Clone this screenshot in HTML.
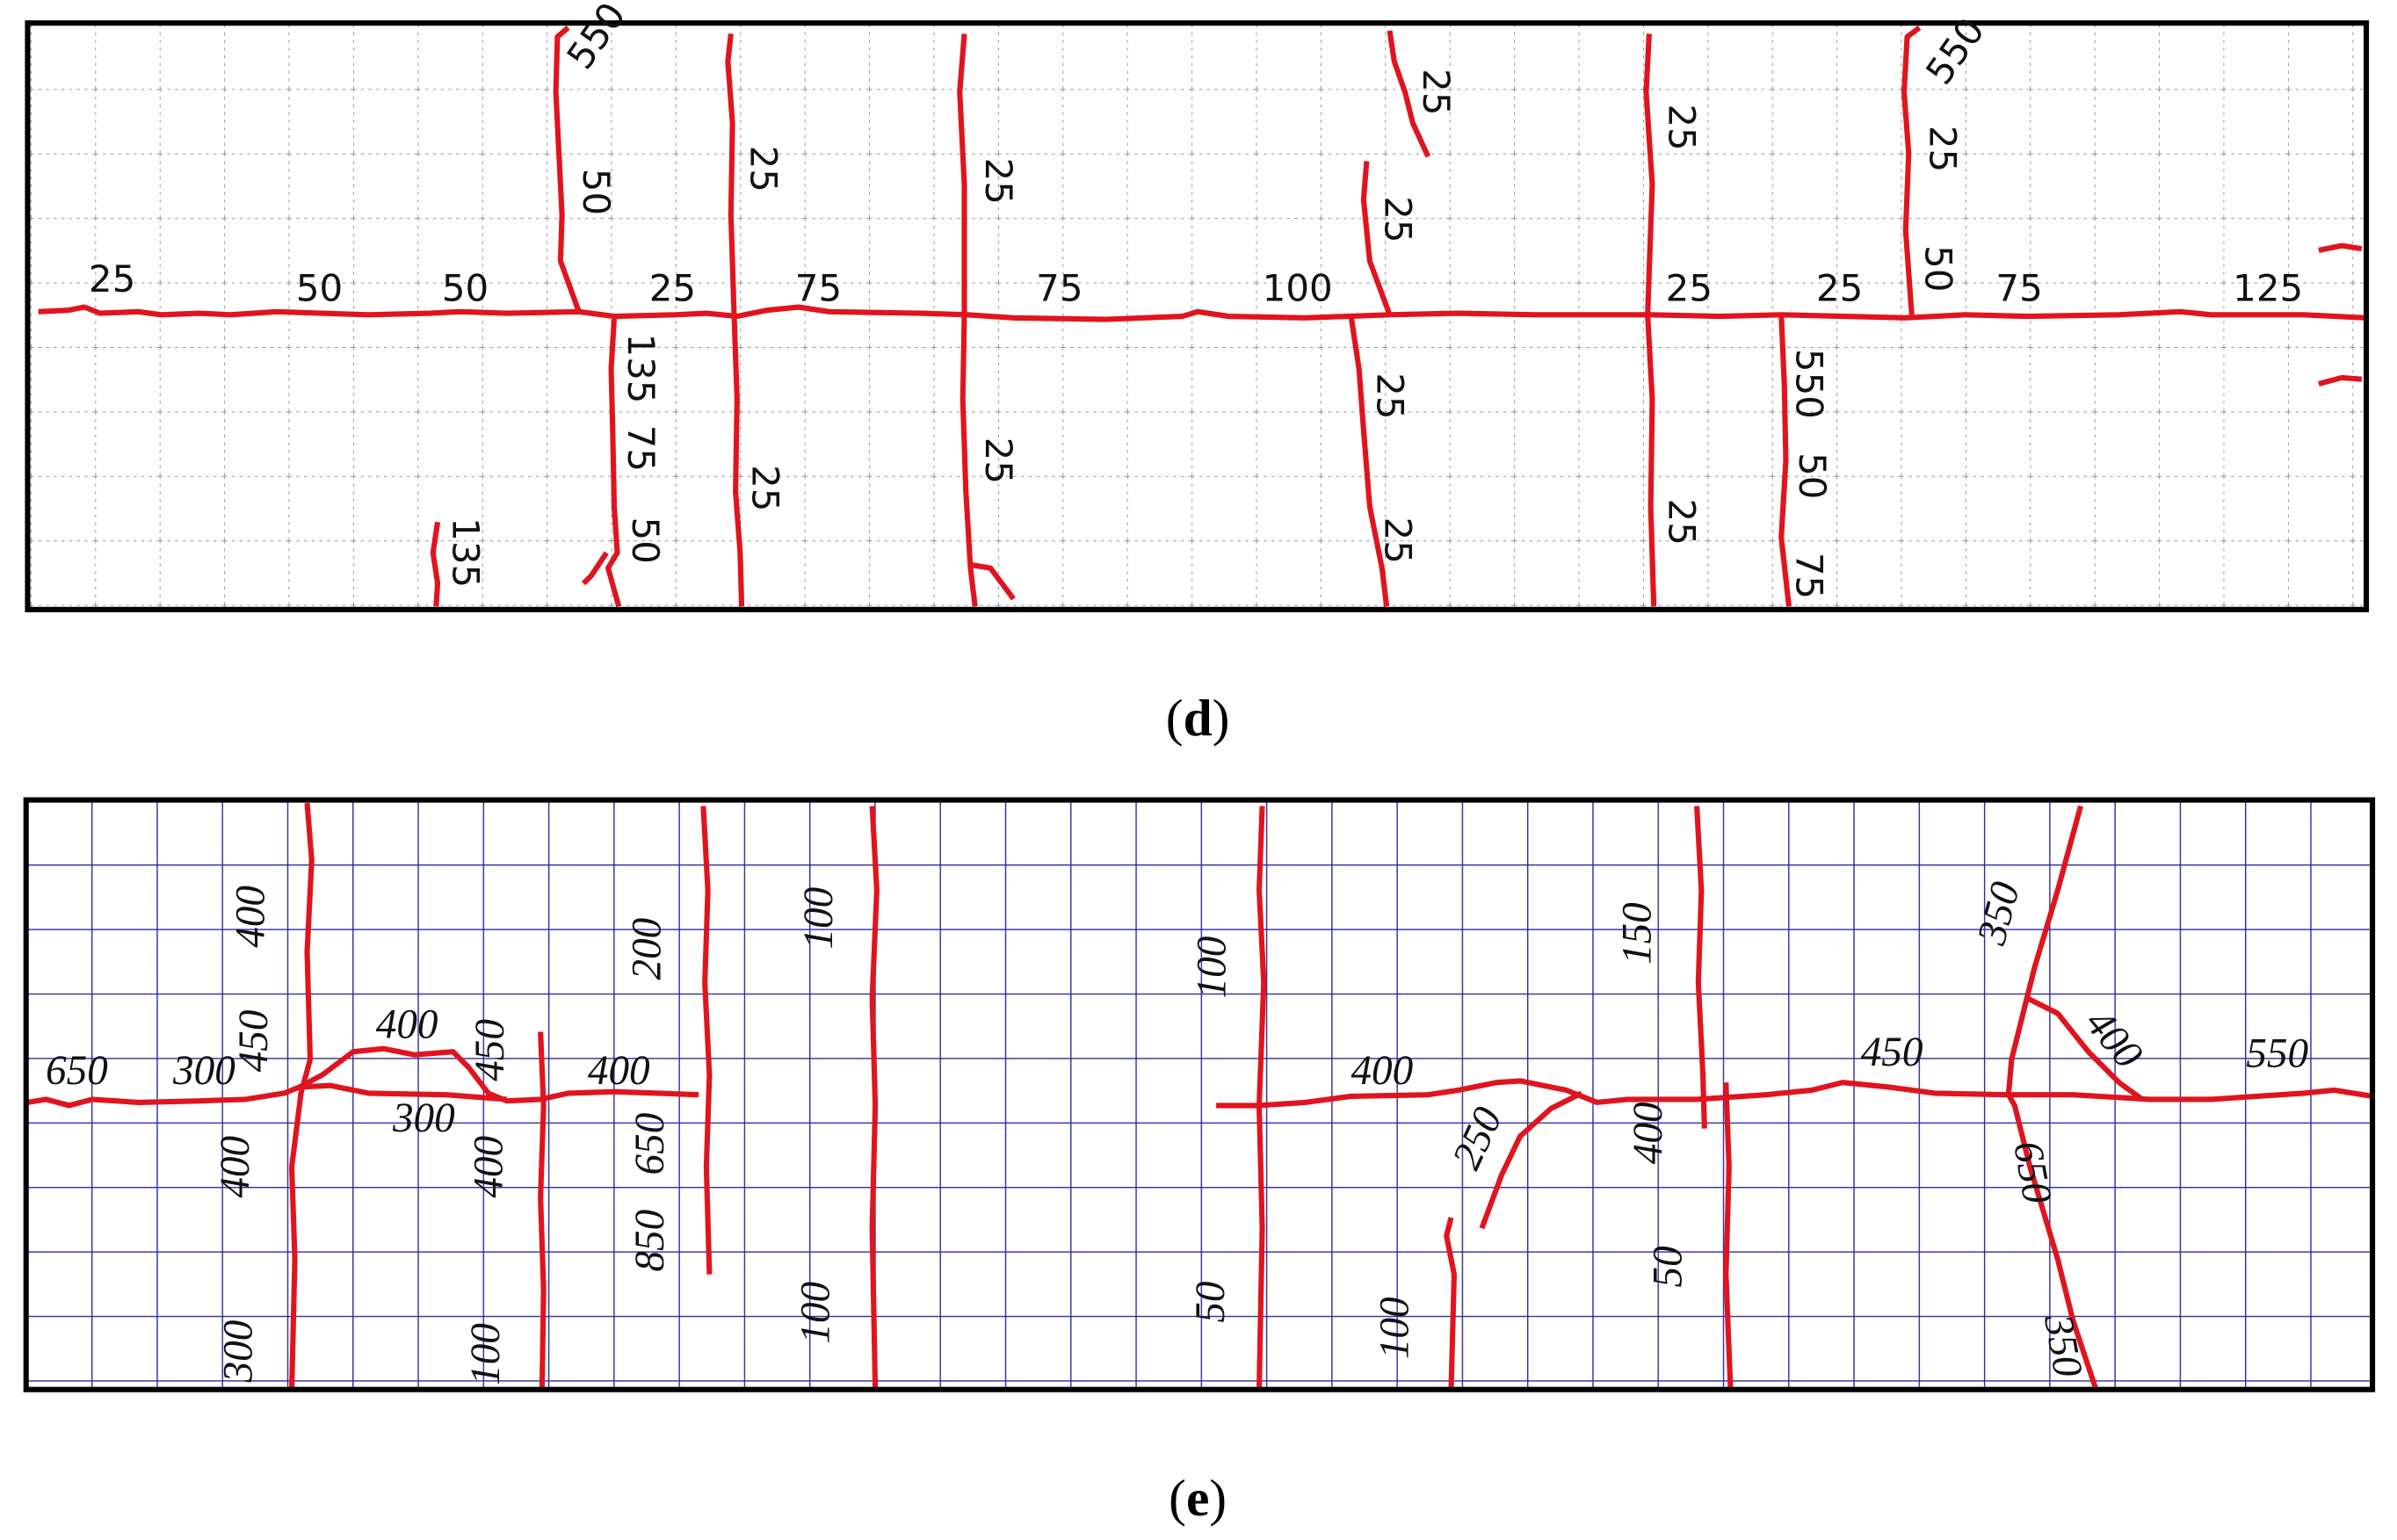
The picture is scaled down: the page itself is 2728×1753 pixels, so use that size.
<!DOCTYPE html>
<html><head><meta charset="utf-8"><style>html,body{margin:0;padding:0;background:#fff}svg{display:block}</style></head>
<body>
<svg width="2728" height="1753" viewBox="0 0 1561 1003" preserveAspectRatio="none" xmlns="http://www.w3.org/2000/svg">
<defs>
<pattern id="gd" x="20" y="16" width="42" height="42" patternUnits="userSpaceOnUse">
<path d="M0 0V42M0 0H42" stroke="#8a8a8a" stroke-width="1" stroke-dasharray="2 3" fill="none"/>
</pattern>
<pattern id="ge" x="17" y="521" width="42.5" height="42" patternUnits="userSpaceOnUse">
<path d="M0 0V42M0 0H42.5" stroke="#2a2aa8" stroke-width="1.6" fill="none"/>
</pattern>
</defs>
<rect width="1561" height="1003" fill="#fff"/>
<!-- Panel d -->
<rect x="18" y="15" width="1523" height="382" fill="url(#gd)"/>
<g fill="none" stroke="#e0141e" stroke-width="3.5" stroke-linejoin="round">
<path d="M25 203 L45 202 L55 200 L65 204 L90 203 L105 205 L130 204 L150 205 L180 203 L240 205 L280 204 L300 203 L330 204 L377 203 L400 206 L440 205 L460 204 L480 206 L500 202 L520 200 L540 203 L600 204 L630 205 L660 207 L720 208 L770 206 L780 203 L800 206 L850 207 L905 205 L950 204 L1000 205 L1060 205 L1075 205 L1120 206 L1160 205 L1240 207 L1280 205 L1320 206 L1380 205 L1420 203 L1440 205 L1500 205 L1541 207"/>
<path d="M370 18 L363 24 L362 60 L364 100 L366 140 L365 170 L377 203"/>
<path d="M400 207 L398 240 L399 280 L400 330 L402 360 L396 370 L403 395"/>
<path d="M395 360 L385 375 L380 380"/>
<path d="M476 22 L474 40 L477 80 L476 140 L478 203 L480 260 L479 320 L482 360 L483 395"/>
<path d="M628 22 L625 60 L628 120 L628 205 L627 260 L629 320 L632 370 L635 395"/>
<path d="M633 368 L645 370 L660 390"/>
<path d="M905 20 L908 40 L915 60 L920 80 L930 102"/>
<path d="M890 105 L888 130 L892 170 L905 205"/>
<path d="M880 207 L885 240 L888 280 L892 330 L900 370 L903 395"/>
<path d="M1074 22 L1072 60 L1076 120 L1073 205 L1076 260 L1075 330 L1077 395"/>
<path d="M1250 18 L1242 24 L1240 60 L1243 100 L1241 150 L1245 205"/>
<path d="M1160 205 L1162 250 L1163 300 L1160 350 L1165 395"/>
<path d="M285 340 L282 360 L285 380 L284 395"/>
<path d="M1510 163 L1525 160 L1538 162"/>
<path d="M1510 250 L1525 246 L1538 247"/>
</g>
<rect x="18" y="15" width="1523" height="382" fill="none" stroke="#000" stroke-width="3.5"/>
<g font-family="DejaVu Sans, Liberation Sans, sans-serif" font-size="24" fill="#111" text-anchor="middle">
<text x="73" y="190">25</text><text x="208" y="196">50</text><text x="303" y="196">50</text>
<text x="438" y="196">25</text><text x="533" y="196">75</text><text x="690" y="196">75</text>
<text x="845" y="196">100</text><text x="1100" y="196">25</text><text x="1198" y="196">25</text>
<text x="1315" y="196">75</text><text x="1477" y="196">125</text>
<g transform="translate(395,28) rotate(-55)"><text>550</text></g>
<g transform="translate(1280,38) rotate(-55)"><text>550</text></g>
<g transform="translate(380,125) rotate(90)"><text>50</text></g>
<g transform="translate(409,240) rotate(90)"><text>135</text></g>
<g transform="translate(409,292) rotate(90)"><text>75</text></g>
<g transform="translate(412,352) rotate(90)"><text>50</text></g>
<g transform="translate(489,110) rotate(90)"><text>25</text></g>
<g transform="translate(490,318) rotate(90)"><text>25</text></g>
<g transform="translate(642,118) rotate(90)"><text>25</text></g>
<g transform="translate(642,300) rotate(90)"><text>25</text></g>
<g transform="translate(927,60) rotate(90)"><text>25</text></g>
<g transform="translate(902,143) rotate(90)"><text>25</text></g>
<g transform="translate(897,258) rotate(90)"><text>25</text></g>
<g transform="translate(902,352) rotate(90)"><text>25</text></g>
<g transform="translate(1087,83) rotate(90)"><text>25</text></g>
<g transform="translate(1087,340) rotate(90)"><text>25</text></g>
<g transform="translate(1257,97) rotate(90)"><text>25</text></g>
<g transform="translate(1254,175) rotate(90)"><text>50</text></g>
<g transform="translate(1170,250) rotate(90)"><text>550</text></g>
<g transform="translate(1172,310) rotate(90)"><text>50</text></g>
<g transform="translate(1170,375) rotate(90)"><text>75</text></g>
<g transform="translate(295,360) rotate(90)"><text>135</text></g>
</g>
<text x="780" y="479" font-family="Liberation Serif, serif" font-size="34" text-anchor="middle">(<tspan font-weight="bold">d</tspan>)</text>
<!-- Panel e -->
<rect x="17" y="521" width="1528" height="384" fill="url(#ge)"/>
<g fill="none" stroke="#e0141e" stroke-width="3.5" stroke-linejoin="round">
<path d="M18 718 L30 716 L45 720 L60 716 L90 718 L130 717 L160 716 L185 712 L195 708 L210 700 L230 685 L250 683 L270 687 L295 685 L305 695 L318 712 L330 717 L352 716 L370 712 L400 711 L455 713"/>
<path d="M195 708 L215 707 L240 712 L290 713 L330 716"/>
<path d="M200 523 L203 560 L200 620 L202 690 L196 712 L190 760 L192 820 L190 905"/>
<path d="M352 672 L354 720 L352 780 L354 840 L353 905"/>
<path d="M458 525 L461 580 L459 640 L462 700 L460 760 L462 830"/>
<path d="M568 525 L571 580 L568 650 L570 720 L568 800 L570 905"/>
<path d="M822 525 L820 580 L823 640 L820 720 L822 800 L820 905"/>
<path d="M792 720 L820 720 L850 718 L880 714 L930 713 L950 710 L975 705 L990 704 L1020 710 L1040 718 L1060 716 L1105 716 L1150 713 L1180 710 L1200 705 L1230 708 L1260 712 L1308 713 L1350 713 L1400 716 L1440 716 L1500 712 L1520 710 L1545 714"/>
<path d="M1105 525 L1108 580 L1106 640 L1109 700 L1110 735"/>
<path d="M1124 705 L1126 760 L1124 830 L1127 905"/>
<path d="M965 800 L978 765 L990 740 L1010 722 L1030 712"/>
<path d="M945 793 L942 805 L947 830 L945 905"/>
<path d="M1355 525 L1340 580 L1325 630 L1320 650 L1310 690 L1308 713 L1312 720 L1322 760 L1340 820 L1350 860 L1365 905"/>
<path d="M1320 650 L1340 660 L1360 685 L1380 705 L1395 716"/>
</g>
<rect x="17" y="521" width="1528" height="384" fill="none" stroke="#000" stroke-width="3.5"/>
<g font-family="Liberation Serif, serif" font-style="italic" font-size="27" fill="#111" text-anchor="middle">
<text x="50" y="706">650</text><text x="133" y="706">300</text><text x="265" y="676">400</text>
<text x="276" y="737">300</text><text x="403" y="706">400</text><text x="900" y="706">400</text>
<text x="1232" y="694">450</text><text x="1483" y="695">550</text>
<g transform="translate(174,678) rotate(-90)"><text>450</text></g>
<g transform="translate(328,684) rotate(-90)"><text>450</text></g>
<g transform="translate(172,597) rotate(-90)"><text>400</text></g>
<g transform="translate(162,760) rotate(-90)"><text>400</text></g>
<g transform="translate(164,880) rotate(-90)"><text>300</text></g>
<g transform="translate(327,760) rotate(-90)"><text>400</text></g>
<g transform="translate(325,882) rotate(-90)"><text>100</text></g>
<g transform="translate(430,618) rotate(-90)"><text>200</text></g>
<g transform="translate(432,745) rotate(-90)"><text>650</text></g>
<g transform="translate(432,808) rotate(-90)"><text>850</text></g>
<g transform="translate(542,598) rotate(-90)"><text>100</text></g>
<g transform="translate(540,855) rotate(-90)"><text>100</text></g>
<g transform="translate(798,630) rotate(-90)"><text>100</text></g>
<g transform="translate(797,848) rotate(-90)"><text>50</text></g>
<g transform="translate(970,745) rotate(-65)"><text>250</text></g>
<g transform="translate(1075,608) rotate(-90)"><text>150</text></g>
<g transform="translate(1082,738) rotate(-90)"><text>400</text></g>
<g transform="translate(1095,825) rotate(-90)"><text>50</text></g>
<g transform="translate(917,865) rotate(-90)"><text>100</text></g>
<g transform="translate(1310,597) rotate(-75)"><text>350</text></g>
<g transform="translate(1370,682) rotate(50)"><text>400</text></g>
<g transform="translate(1315,765) rotate(80)"><text>650</text></g>
<g transform="translate(1335,878) rotate(80)"><text>350</text></g>
</g>
<text x="780" y="987" font-family="Liberation Serif, serif" font-size="34" text-anchor="middle">(<tspan font-weight="bold">e</tspan>)</text>
</svg>
</body></html>
